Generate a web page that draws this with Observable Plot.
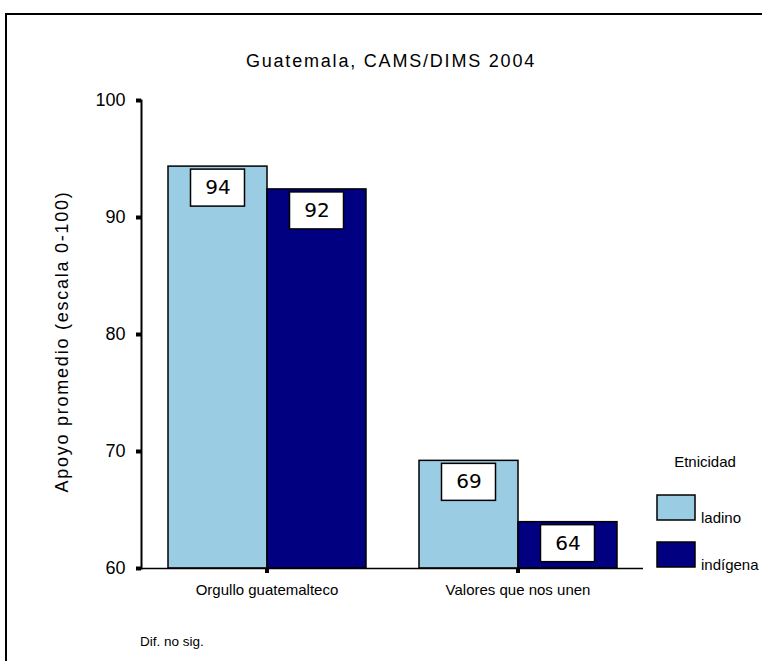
<!DOCTYPE html>
<html><head><meta charset="utf-8">
<script src="https://cdn.jsdelivr.net/npm/d3@7"></script>
<script src="https://cdn.jsdelivr.net/npm/@observablehq/plot@0.6"></script>
<style>
html,body{margin:0;padding:0;background:#fff;}
body{width:762px;height:661px;overflow:hidden;font-family:"Liberation Sans",Arial,sans-serif;}
#wrap{position:relative;width:762px;height:661px;}
#border{position:absolute;left:5px;top:13px;width:820px;height:720px;border:2px solid #000;box-sizing:border-box;}
#chart{position:absolute;left:0;top:0;}
</style></head><body>
<div id="wrap"><div id="border"></div><div id="chart"></div></div>
<script>
const categories = ["Orgullo guatemalteco", "Valores que nos unen"];
const groups = ["ladino", "indígena"];
const ladinoValues = [94.35, 69.2];
const indigenaValues = [92.4, 63.96];
const yTicks = [60, 70, 80, 90, 100];
const colors = ["#9ACDE4", "#000080"];
const titleText = "Guatemala, CAMS/DIMS 2004";
const yLabel = "Apoyo promedio (escala 0-100)";
const legendTitle = "Etnicidad";
const noteText = "Dif. no sig.";

const data = categories.flatMap((c, i) => [
  {category: c, group: groups[0], value: ladinoValues[i]},
  {category: c, group: groups[1], value: indigenaValues[i]}
]);

const plot = Plot.plot({
  width: 762, height: 661,
  marginLeft: 141, marginRight: 119, marginTop: 100, marginBottom: 93,
  style: {fontFamily: "Liberation Sans, Arial, sans-serif", fontSize: "15px", color: "#000", background: "transparent", overflow: "visible"},
  fx: {domain: categories, padding: 0, label: null},
  x: {domain: groups, paddingInner: 0, paddingOuter: 0.26, axis: null},
  y: {domain: [yTicks[0], yTicks[yTicks.length - 1]], axis: null},
  color: {domain: groups, range: colors},
  marks: [
    Plot.barY(data, {fx: "category", x: "group", y1: yTicks[0], y2: "value", fill: "group", stroke: "#000", strokeWidth: 1.5}),
    Plot.barY(data, {fx: "category", x: "group", y1: "value", y2: "value", fill: "#fff", stroke: "#000", strokeWidth: 1.5,
      insetLeft: 22.5, insetRight: 22.5, insetTop: 3, insetBottom: -40}),
    Plot.text(data, {fx: "category", x: "group", y: "value", text: d => String(Math.round(d.value)),
      dy: 21, fontFamily: "DejaVu Sans, sans-serif", fontSize: 20, fill: "#000"}),
    Plot.ruleY([yTicks[0]], {stroke: "#000", strokeWidth: 1.5}),
    Plot.axisY({ticks: yTicks, tickSize: 5, tickPadding: 11, strokeWidth: 4, fontSize: 18,
      label: yLabel, labelAnchor: "center", labelOffset: 86, labelArrow: "none", tickFormat: d => String(d)}),
    Plot.frame({anchor: "left", facetAnchor: "left", strokeWidth: 2, stroke: "#000"}),
    Plot.axisFx({anchor: "bottom", tickSize: 5, tickPadding: 11, strokeWidth: 4, fontSize: 15, label: null})
  ]
});
document.getElementById("chart").appendChild(plot);

const svg = d3.select(plot);
svg.selectAll('g[aria-label="y-axis label"] text').style("letter-spacing", "1.75px");
svg.selectAll('g[aria-label="y-axis label"]').each(function() {
  const t = this.getAttribute("transform") || "";
  this.setAttribute("transform", (t + " translate(0,7)").trim());
});

// title
svg.append("text").attr("x", 391).attr("y", 67).attr("text-anchor", "middle")
  .style("font-size", "18px").style("letter-spacing", "1.8px").text(titleText);
// caption
svg.append("text").attr("x", 140).attr("y", 646).attr("text-anchor", "start")
  .style("font-size", "13.5px").text(noteText);

// legend
const color = plot.scale("color");
const lg = svg.append("g").attr("text-anchor", "start");
lg.append("text").attr("x", 705).attr("y", 467).attr("text-anchor", "middle").style("font-size", "15px").text(legendTitle);
color.domain.forEach((g, i) => {
  const y0 = 495 + i * 47;
  lg.append("rect").attr("x", 657).attr("y", y0).attr("width", 38).attr("height", 25)
    .attr("fill", color.range[i]).attr("stroke", "#000").attr("stroke-width", 1.5);
  lg.append("text").attr("x", 701).attr("y", y0 + 28).attr("text-anchor", "start").style("font-size", "15px").text(g);
});
</script>
</body></html>
